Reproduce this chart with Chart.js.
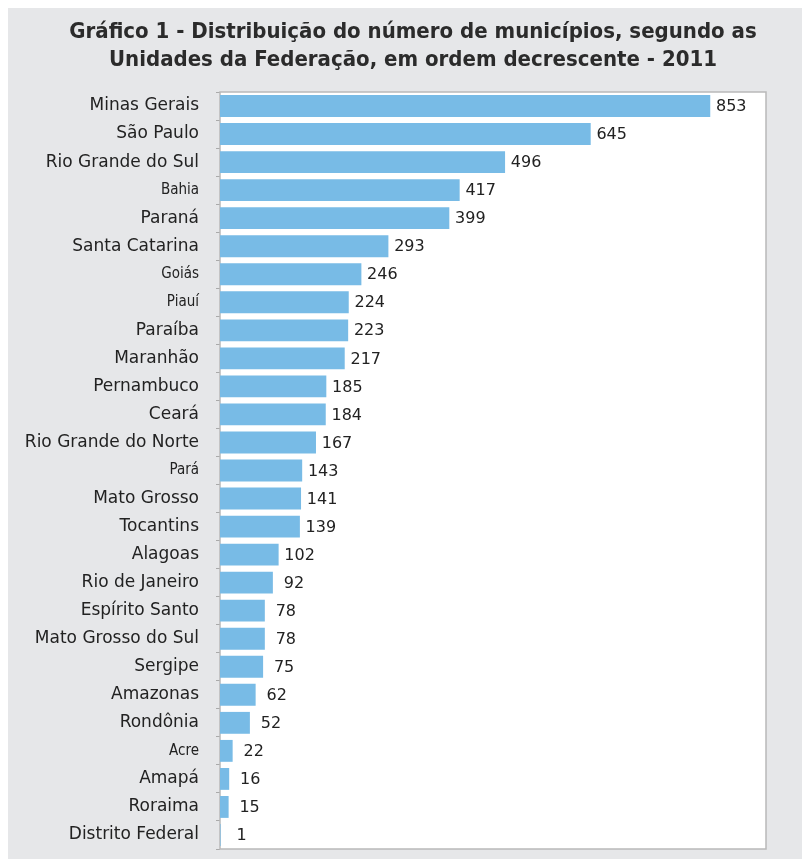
<!DOCTYPE html>
<html>
<head>
<meta charset="utf-8">
<script src="https://cdn.jsdelivr.net/npm/chart.js@4.4.1/dist/chart.umd.min.js"></script>
<style>
  body { margin: 0; background: #fff; overflow: hidden; }
  #wrap { position: absolute; left: 8px; top: 8px; width: 794px; height: 851px; background: #e6e7e9; }
</style>
</head>
<body>
<div id="wrap"><canvas id="my-chart" width="794" height="851"></canvas></div>
<script>
const estados = ['Minas Gerais', 'São Paulo', 'Rio Grande do Sul', 'Bahia', 'Paraná', 'Santa Catarina',
  'Goiás', 'Piauí', 'Paraíba', 'Maranhão', 'Pernambuco', 'Ceará', 'Rio Grande do Norte', 'Pará',
  'Mato Grosso', 'Tocantins', 'Alagoas', 'Rio de Janeiro', 'Espírito Santo', 'Mato Grosso do Sul',
  'Sergipe', 'Amazonas', 'Rondônia', 'Acre', 'Amapá', 'Roraima', 'Distrito Federal'];
const municipios = [853, 645, 496, 417, 399, 293, 246, 224, 223, 217, 185, 184, 167, 143,
  141, 139, 102, 92, 78, 78, 75, 62, 52, 22, 16, 15, 1];
// labels that the original prints in a narrower face
const narrowLabels = ['Bahia', 'Goiás', 'Piauí', 'Pará', 'Acre'];
const titleLines = ['Gráfico 1 - Distribuição do número de municípios, segundo as',
  'Unidades da Federação, em ordem decrescente - 2011'];

const plotFrame = {
  id: 'plotFrame',
  beforeDatasetsDraw(chart) {
    const { ctx, chartArea: a } = chart;
    ctx.save();
    ctx.fillStyle = '#ffffff';
    ctx.fillRect(a.left, a.top, a.right - a.left, a.bottom - a.top);
    ctx.strokeStyle = '#b9b9b9';
    ctx.lineWidth = 1.5;
    ctx.strokeRect(a.left, a.top, a.right - a.left, a.bottom - a.top);
    ctx.restore();
  }
};

const valueLabels = {
  id: 'valueLabels',
  afterDatasetsDraw(chart) {
    const { ctx } = chart;
    const meta = chart.getDatasetMeta(0);
    ctx.save();
    ctx.font = '16px "DejaVu Sans", sans-serif';
    ctx.fillStyle = '#222';
    ctx.textAlign = 'center';
    ctx.textBaseline = 'middle';
    meta.data.forEach((bar, i) => {
      ctx.fillText(String(municipios[i]), bar.x + 21, bar.y + 1);
    });
    ctx.restore();
  }
};

const ctx = document.getElementById('my-chart').getContext('2d');
const chart = new Chart(ctx, {
  type: 'bar',
  data: {
    labels: estados,
    datasets: [{
      data: municipios,
      backgroundColor: '#78bbe6',
      borderWidth: 0,
      barPercentage: 0.78,
      categoryPercentage: 1
    }]
  },
  options: {
    indexAxis: 'y',
    responsive: false,
    animation: false,
    layout: { padding: { top: 0, right: 0, bottom: 10, left: 16 } },
    plugins: {
      legend: { display: false },
      tooltip: { enabled: false },
      title: {
        display: true,
        text: titleLines,
        color: '#2b2b2b',
        font: { family: '"Liberation Sans Narrow", "DejaVu Sans Condensed", sans-serif', size: 22, weight: 'bold', lineHeight: 1.25 },
        padding: { top: 11, bottom: 18 }
      }
    },
    scales: {
      x: {
        min: 0,
        max: 950,
        display: false
      },
      y: {
        afterFit(scale) {
          scale.width = 196;
          scale.paddingTop = 0;
          scale.paddingBottom = 0;
        },
        border: { display: false },
        grid: { drawOnChartArea: false, tickLength: 4, color: '#aaaaaa', offset: true },
        ticks: {
          padding: 17,
          color: '#222',
          font: (c) => {
            const lbl = estados[c.index];
            if (narrowLabels.includes(lbl)) {
              return { family: '"Liberation Sans Narrow", "DejaVu Sans Condensed", sans-serif', size: 15 };
            }
            return { family: '"DejaVu Sans", sans-serif', size: 17 };
          }
        }
      },
      // empty strip on the right, keeps the gray margin beside the plot
      yRight: {
        position: 'right',
        grid: { display: false },
        border: { display: false },
        ticks: { display: false },
        afterFit(scale) {
          scale.width = 36;
          scale.paddingTop = 0;
          scale.paddingBottom = 0;
        }
      }
    }
  },
  plugins: [plotFrame, valueLabels]
});
</script>
</body>
</html>
